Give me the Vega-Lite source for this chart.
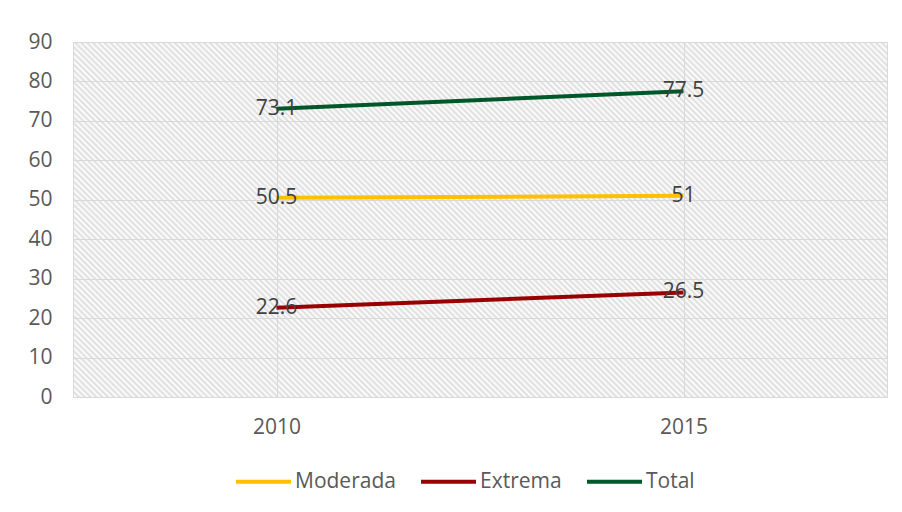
{
  "$schema": "https://vega.github.io/schema/vega-lite/v6.json",
  "width": 814,
  "height": 355,
  "autosize": "none",
  "padding": {"left": 73, "top": 42, "right": 15, "bottom": 115},
  "background": "#ffffff",
  "config": {
    "font": "Open Sans",
    "view": {
      "stroke": "#d9d9d9",
      "strokeWidth": 1,
      "fill": {
        "gradient": "linear",
        "x1": 0, "y1": 1, "x2": 1.2066, "y2": 0.4738,
        "stops": [
{"offset":0.00,"color":"#dcdcdc"},{"offset":0.0025,"color":"#fff"},{"offset":0.005,"color":"#dcdcdc"},{"offset":0.0075,"color":"#fff"},
{"offset":0.01,"color":"#dcdcdc"},{"offset":0.0125,"color":"#fff"},{"offset":0.015,"color":"#dcdcdc"},{"offset":0.0175,"color":"#fff"},
{"offset":0.02,"color":"#dcdcdc"},{"offset":0.0225,"color":"#fff"},{"offset":0.025,"color":"#dcdcdc"},{"offset":0.0275,"color":"#fff"},
{"offset":0.03,"color":"#dcdcdc"},{"offset":0.0325,"color":"#fff"},{"offset":0.035,"color":"#dcdcdc"},{"offset":0.0375,"color":"#fff"},
{"offset":0.04,"color":"#dcdcdc"},{"offset":0.0425,"color":"#fff"},{"offset":0.045,"color":"#dcdcdc"},{"offset":0.0475,"color":"#fff"},
{"offset":0.05,"color":"#dcdcdc"},{"offset":0.0525,"color":"#fff"},{"offset":0.055,"color":"#dcdcdc"},{"offset":0.0575,"color":"#fff"},
{"offset":0.06,"color":"#dcdcdc"},{"offset":0.0625,"color":"#fff"},{"offset":0.065,"color":"#dcdcdc"},{"offset":0.0675,"color":"#fff"},
{"offset":0.07,"color":"#dcdcdc"},{"offset":0.0725,"color":"#fff"},{"offset":0.075,"color":"#dcdcdc"},{"offset":0.0775,"color":"#fff"},
{"offset":0.08,"color":"#dcdcdc"},{"offset":0.0825,"color":"#fff"},{"offset":0.085,"color":"#dcdcdc"},{"offset":0.0875,"color":"#fff"},
{"offset":0.09,"color":"#dcdcdc"},{"offset":0.0925,"color":"#fff"},{"offset":0.095,"color":"#dcdcdc"},{"offset":0.0975,"color":"#fff"},
{"offset":0.10,"color":"#dcdcdc"},{"offset":0.1025,"color":"#fff"},{"offset":0.105,"color":"#dcdcdc"},{"offset":0.1075,"color":"#fff"},
{"offset":0.11,"color":"#dcdcdc"},{"offset":0.1125,"color":"#fff"},{"offset":0.115,"color":"#dcdcdc"},{"offset":0.1175,"color":"#fff"},
{"offset":0.12,"color":"#dcdcdc"},{"offset":0.1225,"color":"#fff"},{"offset":0.125,"color":"#dcdcdc"},{"offset":0.1275,"color":"#fff"},
{"offset":0.13,"color":"#dcdcdc"},{"offset":0.1325,"color":"#fff"},{"offset":0.135,"color":"#dcdcdc"},{"offset":0.1375,"color":"#fff"},
{"offset":0.14,"color":"#dcdcdc"},{"offset":0.1425,"color":"#fff"},{"offset":0.145,"color":"#dcdcdc"},{"offset":0.1475,"color":"#fff"},
{"offset":0.15,"color":"#dcdcdc"},{"offset":0.1525,"color":"#fff"},{"offset":0.155,"color":"#dcdcdc"},{"offset":0.1575,"color":"#fff"},
{"offset":0.16,"color":"#dcdcdc"},{"offset":0.1625,"color":"#fff"},{"offset":0.165,"color":"#dcdcdc"},{"offset":0.1675,"color":"#fff"},
{"offset":0.17,"color":"#dcdcdc"},{"offset":0.1725,"color":"#fff"},{"offset":0.175,"color":"#dcdcdc"},{"offset":0.1775,"color":"#fff"},
{"offset":0.18,"color":"#dcdcdc"},{"offset":0.1825,"color":"#fff"},{"offset":0.185,"color":"#dcdcdc"},{"offset":0.1875,"color":"#fff"},
{"offset":0.19,"color":"#dcdcdc"},{"offset":0.1925,"color":"#fff"},{"offset":0.195,"color":"#dcdcdc"},{"offset":0.1975,"color":"#fff"},
{"offset":0.20,"color":"#dcdcdc"},{"offset":0.2025,"color":"#fff"},{"offset":0.205,"color":"#dcdcdc"},{"offset":0.2075,"color":"#fff"},
{"offset":0.21,"color":"#dcdcdc"},{"offset":0.2125,"color":"#fff"},{"offset":0.215,"color":"#dcdcdc"},{"offset":0.2175,"color":"#fff"},
{"offset":0.22,"color":"#dcdcdc"},{"offset":0.2225,"color":"#fff"},{"offset":0.225,"color":"#dcdcdc"},{"offset":0.2275,"color":"#fff"},
{"offset":0.23,"color":"#dcdcdc"},{"offset":0.2325,"color":"#fff"},{"offset":0.235,"color":"#dcdcdc"},{"offset":0.2375,"color":"#fff"},
{"offset":0.24,"color":"#dcdcdc"},{"offset":0.2425,"color":"#fff"},{"offset":0.245,"color":"#dcdcdc"},{"offset":0.2475,"color":"#fff"},
{"offset":0.25,"color":"#dcdcdc"},{"offset":0.2525,"color":"#fff"},{"offset":0.255,"color":"#dcdcdc"},{"offset":0.2575,"color":"#fff"},
{"offset":0.26,"color":"#dcdcdc"},{"offset":0.2625,"color":"#fff"},{"offset":0.265,"color":"#dcdcdc"},{"offset":0.2675,"color":"#fff"},
{"offset":0.27,"color":"#dcdcdc"},{"offset":0.2725,"color":"#fff"},{"offset":0.275,"color":"#dcdcdc"},{"offset":0.2775,"color":"#fff"},
{"offset":0.28,"color":"#dcdcdc"},{"offset":0.2825,"color":"#fff"},{"offset":0.285,"color":"#dcdcdc"},{"offset":0.2875,"color":"#fff"},
{"offset":0.29,"color":"#dcdcdc"},{"offset":0.2925,"color":"#fff"},{"offset":0.295,"color":"#dcdcdc"},{"offset":0.2975,"color":"#fff"},
{"offset":0.30,"color":"#dcdcdc"},{"offset":0.3025,"color":"#fff"},{"offset":0.305,"color":"#dcdcdc"},{"offset":0.3075,"color":"#fff"},
{"offset":0.31,"color":"#dcdcdc"},{"offset":0.3125,"color":"#fff"},{"offset":0.315,"color":"#dcdcdc"},{"offset":0.3175,"color":"#fff"},
{"offset":0.32,"color":"#dcdcdc"},{"offset":0.3225,"color":"#fff"},{"offset":0.325,"color":"#dcdcdc"},{"offset":0.3275,"color":"#fff"},
{"offset":0.33,"color":"#dcdcdc"},{"offset":0.3325,"color":"#fff"},{"offset":0.335,"color":"#dcdcdc"},{"offset":0.3375,"color":"#fff"},
{"offset":0.34,"color":"#dcdcdc"},{"offset":0.3425,"color":"#fff"},{"offset":0.345,"color":"#dcdcdc"},{"offset":0.3475,"color":"#fff"},
{"offset":0.35,"color":"#dcdcdc"},{"offset":0.3525,"color":"#fff"},{"offset":0.355,"color":"#dcdcdc"},{"offset":0.3575,"color":"#fff"},
{"offset":0.36,"color":"#dcdcdc"},{"offset":0.3625,"color":"#fff"},{"offset":0.365,"color":"#dcdcdc"},{"offset":0.3675,"color":"#fff"},
{"offset":0.37,"color":"#dcdcdc"},{"offset":0.3725,"color":"#fff"},{"offset":0.375,"color":"#dcdcdc"},{"offset":0.3775,"color":"#fff"},
{"offset":0.38,"color":"#dcdcdc"},{"offset":0.3825,"color":"#fff"},{"offset":0.385,"color":"#dcdcdc"},{"offset":0.3875,"color":"#fff"},
{"offset":0.39,"color":"#dcdcdc"},{"offset":0.3925,"color":"#fff"},{"offset":0.395,"color":"#dcdcdc"},{"offset":0.3975,"color":"#fff"},
{"offset":0.40,"color":"#dcdcdc"},{"offset":0.4025,"color":"#fff"},{"offset":0.405,"color":"#dcdcdc"},{"offset":0.4075,"color":"#fff"},
{"offset":0.41,"color":"#dcdcdc"},{"offset":0.4125,"color":"#fff"},{"offset":0.415,"color":"#dcdcdc"},{"offset":0.4175,"color":"#fff"},
{"offset":0.42,"color":"#dcdcdc"},{"offset":0.4225,"color":"#fff"},{"offset":0.425,"color":"#dcdcdc"},{"offset":0.4275,"color":"#fff"},
{"offset":0.43,"color":"#dcdcdc"},{"offset":0.4325,"color":"#fff"},{"offset":0.435,"color":"#dcdcdc"},{"offset":0.4375,"color":"#fff"},
{"offset":0.44,"color":"#dcdcdc"},{"offset":0.4425,"color":"#fff"},{"offset":0.445,"color":"#dcdcdc"},{"offset":0.4475,"color":"#fff"},
{"offset":0.45,"color":"#dcdcdc"},{"offset":0.4525,"color":"#fff"},{"offset":0.455,"color":"#dcdcdc"},{"offset":0.4575,"color":"#fff"},
{"offset":0.46,"color":"#dcdcdc"},{"offset":0.4625,"color":"#fff"},{"offset":0.465,"color":"#dcdcdc"},{"offset":0.4675,"color":"#fff"},
{"offset":0.47,"color":"#dcdcdc"},{"offset":0.4725,"color":"#fff"},{"offset":0.475,"color":"#dcdcdc"},{"offset":0.4775,"color":"#fff"},
{"offset":0.48,"color":"#dcdcdc"},{"offset":0.4825,"color":"#fff"},{"offset":0.485,"color":"#dcdcdc"},{"offset":0.4875,"color":"#fff"},
{"offset":0.49,"color":"#dcdcdc"},{"offset":0.4925,"color":"#fff"},{"offset":0.495,"color":"#dcdcdc"},{"offset":0.4975,"color":"#fff"},
{"offset":0.50,"color":"#dcdcdc"},{"offset":0.5025,"color":"#fff"},{"offset":0.505,"color":"#dcdcdc"},{"offset":0.5075,"color":"#fff"},
{"offset":0.51,"color":"#dcdcdc"},{"offset":0.5125,"color":"#fff"},{"offset":0.515,"color":"#dcdcdc"},{"offset":0.5175,"color":"#fff"},
{"offset":0.52,"color":"#dcdcdc"},{"offset":0.5225,"color":"#fff"},{"offset":0.525,"color":"#dcdcdc"},{"offset":0.5275,"color":"#fff"},
{"offset":0.53,"color":"#dcdcdc"},{"offset":0.5325,"color":"#fff"},{"offset":0.535,"color":"#dcdcdc"},{"offset":0.5375,"color":"#fff"},
{"offset":0.54,"color":"#dcdcdc"},{"offset":0.5425,"color":"#fff"},{"offset":0.545,"color":"#dcdcdc"},{"offset":0.5475,"color":"#fff"},
{"offset":0.55,"color":"#dcdcdc"},{"offset":0.5525,"color":"#fff"},{"offset":0.555,"color":"#dcdcdc"},{"offset":0.5575,"color":"#fff"},
{"offset":0.56,"color":"#dcdcdc"},{"offset":0.5625,"color":"#fff"},{"offset":0.565,"color":"#dcdcdc"},{"offset":0.5675,"color":"#fff"},
{"offset":0.57,"color":"#dcdcdc"},{"offset":0.5725,"color":"#fff"},{"offset":0.575,"color":"#dcdcdc"},{"offset":0.5775,"color":"#fff"},
{"offset":0.58,"color":"#dcdcdc"},{"offset":0.5825,"color":"#fff"},{"offset":0.585,"color":"#dcdcdc"},{"offset":0.5875,"color":"#fff"},
{"offset":0.59,"color":"#dcdcdc"},{"offset":0.5925,"color":"#fff"},{"offset":0.595,"color":"#dcdcdc"},{"offset":0.5975,"color":"#fff"},
{"offset":0.60,"color":"#dcdcdc"},{"offset":0.6025,"color":"#fff"},{"offset":0.605,"color":"#dcdcdc"},{"offset":0.6075,"color":"#fff"},
{"offset":0.61,"color":"#dcdcdc"},{"offset":0.6125,"color":"#fff"},{"offset":0.615,"color":"#dcdcdc"},{"offset":0.6175,"color":"#fff"},
{"offset":0.62,"color":"#dcdcdc"},{"offset":0.6225,"color":"#fff"},{"offset":0.625,"color":"#dcdcdc"},{"offset":0.6275,"color":"#fff"},
{"offset":0.63,"color":"#dcdcdc"},{"offset":0.6325,"color":"#fff"},{"offset":0.635,"color":"#dcdcdc"},{"offset":0.6375,"color":"#fff"},
{"offset":0.64,"color":"#dcdcdc"},{"offset":0.6425,"color":"#fff"},{"offset":0.645,"color":"#dcdcdc"},{"offset":0.6475,"color":"#fff"},
{"offset":0.65,"color":"#dcdcdc"},{"offset":0.6525,"color":"#fff"},{"offset":0.655,"color":"#dcdcdc"},{"offset":0.6575,"color":"#fff"},
{"offset":0.66,"color":"#dcdcdc"},{"offset":0.6625,"color":"#fff"},{"offset":0.665,"color":"#dcdcdc"},{"offset":0.6675,"color":"#fff"},
{"offset":0.67,"color":"#dcdcdc"},{"offset":0.6725,"color":"#fff"},{"offset":0.675,"color":"#dcdcdc"},{"offset":0.6775,"color":"#fff"},
{"offset":0.68,"color":"#dcdcdc"},{"offset":0.6825,"color":"#fff"},{"offset":0.685,"color":"#dcdcdc"},{"offset":0.6875,"color":"#fff"},
{"offset":0.69,"color":"#dcdcdc"},{"offset":0.6925,"color":"#fff"},{"offset":0.695,"color":"#dcdcdc"},{"offset":0.6975,"color":"#fff"},
{"offset":0.70,"color":"#dcdcdc"},{"offset":0.7025,"color":"#fff"},{"offset":0.705,"color":"#dcdcdc"},{"offset":0.7075,"color":"#fff"},
{"offset":0.71,"color":"#dcdcdc"},{"offset":0.7125,"color":"#fff"},{"offset":0.715,"color":"#dcdcdc"},{"offset":0.7175,"color":"#fff"},
{"offset":0.72,"color":"#dcdcdc"},{"offset":0.7225,"color":"#fff"},{"offset":0.725,"color":"#dcdcdc"},{"offset":0.7275,"color":"#fff"},
{"offset":0.73,"color":"#dcdcdc"},{"offset":0.7325,"color":"#fff"},{"offset":0.735,"color":"#dcdcdc"},{"offset":0.7375,"color":"#fff"},
{"offset":0.74,"color":"#dcdcdc"},{"offset":0.7425,"color":"#fff"},{"offset":0.745,"color":"#dcdcdc"},{"offset":0.7475,"color":"#fff"},
{"offset":0.75,"color":"#dcdcdc"},{"offset":0.7525,"color":"#fff"},{"offset":0.755,"color":"#dcdcdc"},{"offset":0.7575,"color":"#fff"},
{"offset":0.76,"color":"#dcdcdc"},{"offset":0.7625,"color":"#fff"},{"offset":0.765,"color":"#dcdcdc"},{"offset":0.7675,"color":"#fff"},
{"offset":0.77,"color":"#dcdcdc"},{"offset":0.7725,"color":"#fff"},{"offset":0.775,"color":"#dcdcdc"},{"offset":0.7775,"color":"#fff"},
{"offset":0.78,"color":"#dcdcdc"},{"offset":0.7825,"color":"#fff"},{"offset":0.785,"color":"#dcdcdc"},{"offset":0.7875,"color":"#fff"},
{"offset":0.79,"color":"#dcdcdc"},{"offset":0.7925,"color":"#fff"},{"offset":0.795,"color":"#dcdcdc"},{"offset":0.7975,"color":"#fff"},
{"offset":0.80,"color":"#dcdcdc"},{"offset":0.8025,"color":"#fff"},{"offset":0.805,"color":"#dcdcdc"},{"offset":0.8075,"color":"#fff"},
{"offset":0.81,"color":"#dcdcdc"},{"offset":0.8125,"color":"#fff"},{"offset":0.815,"color":"#dcdcdc"},{"offset":0.8175,"color":"#fff"},
{"offset":0.82,"color":"#dcdcdc"},{"offset":0.8225,"color":"#fff"},{"offset":0.825,"color":"#dcdcdc"},{"offset":0.8275,"color":"#fff"},
{"offset":0.83,"color":"#dcdcdc"},{"offset":0.8325,"color":"#fff"},{"offset":0.835,"color":"#dcdcdc"},{"offset":0.8375,"color":"#fff"},
{"offset":0.84,"color":"#dcdcdc"},{"offset":0.8425,"color":"#fff"},{"offset":0.845,"color":"#dcdcdc"},{"offset":0.8475,"color":"#fff"},
{"offset":0.85,"color":"#dcdcdc"},{"offset":0.8525,"color":"#fff"},{"offset":0.855,"color":"#dcdcdc"},{"offset":0.8575,"color":"#fff"},
{"offset":0.86,"color":"#dcdcdc"},{"offset":0.8625,"color":"#fff"},{"offset":0.865,"color":"#dcdcdc"},{"offset":0.8675,"color":"#fff"},
{"offset":0.87,"color":"#dcdcdc"},{"offset":0.8725,"color":"#fff"},{"offset":0.875,"color":"#dcdcdc"},{"offset":0.8775,"color":"#fff"},
{"offset":0.88,"color":"#dcdcdc"},{"offset":0.8825,"color":"#fff"},{"offset":0.885,"color":"#dcdcdc"},{"offset":0.8875,"color":"#fff"},
{"offset":0.89,"color":"#dcdcdc"},{"offset":0.8925,"color":"#fff"},{"offset":0.895,"color":"#dcdcdc"},{"offset":0.8975,"color":"#fff"},
{"offset":0.90,"color":"#dcdcdc"},{"offset":0.9025,"color":"#fff"},{"offset":0.905,"color":"#dcdcdc"},{"offset":0.9075,"color":"#fff"},
{"offset":0.91,"color":"#dcdcdc"},{"offset":0.9125,"color":"#fff"},{"offset":0.915,"color":"#dcdcdc"},{"offset":0.9175,"color":"#fff"},
{"offset":0.92,"color":"#dcdcdc"},{"offset":0.9225,"color":"#fff"},{"offset":0.925,"color":"#dcdcdc"},{"offset":0.9275,"color":"#fff"},
{"offset":0.93,"color":"#dcdcdc"},{"offset":0.9325,"color":"#fff"},{"offset":0.935,"color":"#dcdcdc"},{"offset":0.9375,"color":"#fff"},
{"offset":0.94,"color":"#dcdcdc"},{"offset":0.9425,"color":"#fff"},{"offset":0.945,"color":"#dcdcdc"},{"offset":0.9475,"color":"#fff"},
{"offset":0.95,"color":"#dcdcdc"},{"offset":0.9525,"color":"#fff"},{"offset":0.955,"color":"#dcdcdc"},{"offset":0.9575,"color":"#fff"},
{"offset":0.96,"color":"#dcdcdc"},{"offset":0.9625,"color":"#fff"},{"offset":0.965,"color":"#dcdcdc"},{"offset":0.9675,"color":"#fff"},
{"offset":0.97,"color":"#dcdcdc"},{"offset":0.9725,"color":"#fff"},{"offset":0.975,"color":"#dcdcdc"},{"offset":0.9775,"color":"#fff"},
{"offset":0.98,"color":"#dcdcdc"},{"offset":0.9825,"color":"#fff"},{"offset":0.985,"color":"#dcdcdc"},{"offset":0.9875,"color":"#fff"},
{"offset":0.99,"color":"#dcdcdc"},{"offset":0.9925,"color":"#fff"},{"offset":0.995,"color":"#dcdcdc"},{"offset":0.9975,"color":"#fff"},
{"offset":1,"color":"#dcdcdc"}
        ]
      }
    }
  },
  "data": {
    "values": [
      {"series": "Moderada", "year": "2010", "value": 50.5},
      {"series": "Moderada", "year": "2015", "value": 51},
      {"series": "Extrema", "year": "2010", "value": 22.6},
      {"series": "Extrema", "year": "2015", "value": 26.5},
      {"series": "Total", "year": "2010", "value": 73.1},
      {"series": "Total", "year": "2015", "value": 77.5}
    ]
  },
  "encoding": {
    "x": {
      "field": "year", "type": "ordinal",
      "scale": {"type": "point", "padding": 0.5},
      "axis": {"title": null, "labelAngle": 0, "labelFontSize": 21, "labelColor": "#595959", "labelPadding": 19, "ticks": false, "domain": false, "grid": true, "gridColor": "#d9d9d9", "gridWidth": 1}
    },
    "y": {
      "field": "value", "type": "quantitative",
      "scale": {"domain": [0, 90], "nice": false},
      "axis": {"title": null, "values": [0, 10, 20, 30, 40, 50, 60, 70, 80, 90], "labelFontSize": 21, "labelColor": "#595959", "labelPadding": 21, "ticks": false, "domain": false, "grid": true, "gridColor": "#d9d9d9", "gridWidth": 1}
    }
  },
  "layer": [
    {
      "mark": {"type": "line", "strokeWidth": 4},
      "encoding": {
        "color": {
          "field": "series", "type": "nominal",
          "scale": {"domain": ["Moderada", "Extrema", "Total"], "range": ["#FFC000", "#990000", "#00582A"]},
          "legend": {
            "title": null, "orient": "none", "direction": "horizontal", "legendX": 161, "legendY": 410,
            "symbolType": "stroke", "symbolSize": 3025, "symbolStrokeWidth": 4,
            "labelFontSize": 21, "labelColor": "#595959", "labelOffset": 2, "columnPadding": 17, "padding": 0
          }
        }
      }
    },
    {
      "mark": {"type": "text", "fontSize": 21, "color": "#404040"},
      "encoding": {
        "text": {"field": "value", "type": "quantitative"}
      }
    }
  ]
}
